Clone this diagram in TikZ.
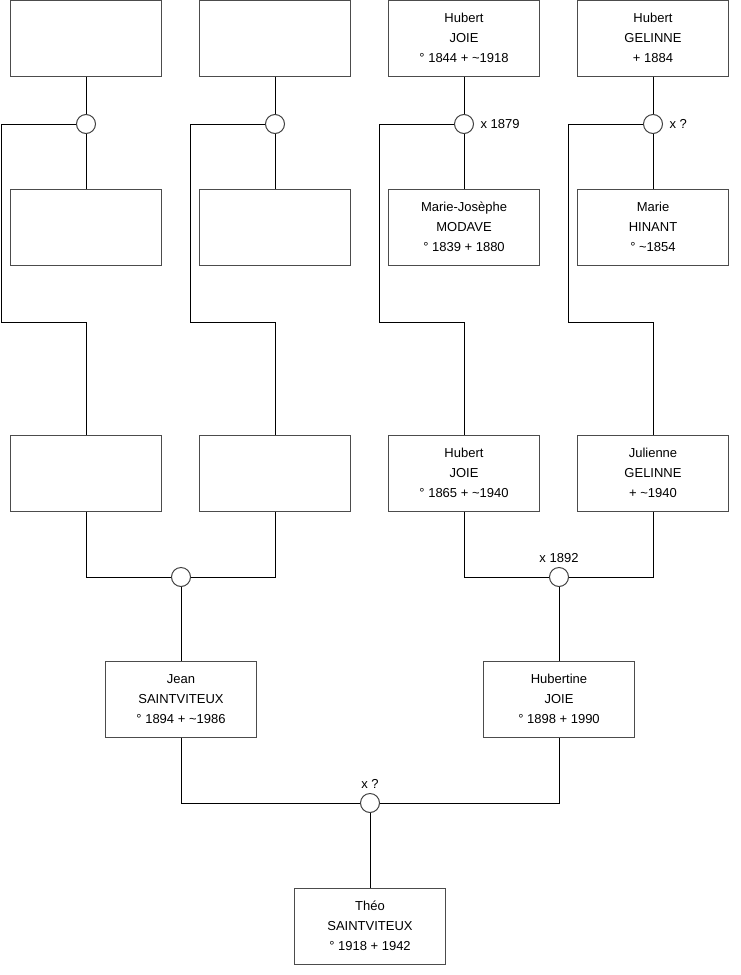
\documentclass[tikz,border=0pt]{standalone}
\usepackage{fontspec}
\setmainfont{Liberation Sans}
\usetikzlibrary{positioning}

\begin{document}
\begin{tikzpicture}[x=1pt, y=-1pt, node distance=37pt, line width=1pt]
    % Styles
    \tikzstyle{person} = [rectangle, draw=black!70, fill=white, minimum width=151pt, minimum height=76pt, align=center, inner sep=0pt, font=\fontsize{13}{20}\selectfont]
    \tikzstyle{union} = [circle, draw=black!75, fill=white, minimum size=19pt, inner sep=0pt]
    \tikzstyle{year} = [font=\fontsize{13}{15}\selectfont, inner sep=2pt]
    \tikzstyle{line} = [draw, black]

    \useasboundingbox (0,0) rectangle (740,975);

    % Great-grandparents
    \node [person] (ggp1) at (86,38) {};
    \node [person, right=of ggp1] (ggp2) {};
    \node [person, right=of ggp2] (ggp3) {Hubert\\JOIE\\° 1844 + \textasciitilde1918};
    \node [person, right=of ggp3] (ggp4) {Hubert\\GELINNE\\+ 1884};

    \node [person, below=112pt of ggp1] (ggm1) {};
    \node [person, below=112pt of ggp2] (ggm2) {};
    \node [person, below=112pt of ggp3] (ggm3) {Marie-Josèphe\\MODAVE\\° 1839 + 1880};
    \node [person, below=112pt of ggp4] (ggm4) {Marie\\HINANT\\° \textasciitilde1854};

    % Grandparents
    \node [person] (gp1) at (86,473) {};
    \node [person, right=of gp1] (gp2) {};
    \node [person, right=of gp2] (gp3) {Hubert\\JOIE\\° 1865 + \textasciitilde1940};
    \node [person, right=of gp3] (gp4) {Julienne\\GELINNE\\+ \textasciitilde1940};

    % Parents and child
    \node [person] (father) at (181,699) {Jean\\SAINTVITEUX\\° 1894 + \textasciitilde1986};
    \node [person] (mother) at (559,699) {Hubertine\\JOIE\\° 1898 + 1990};
    \node [person] (child) at (370,926) {Théo\\SAINTVITEUX\\° 1918 + 1942};

    % Unions
    \node [union] (u1) at (ggp1 |- 0,124) {};
    \node [union] (u2) at (ggp2 |- 0,124) {};
    \node [union] (u3) at (ggp3 |- 0,124) {};
    \node [union] (u4) at (ggp4 |- 0,124) {};
    \node [union] (v1) at (181,577) {};
    \node [union] (v2) at (559,577) {};
    \node [union] (w) at (370,803) {};

    \node [year, right=4pt of u3] (l3) {x 1879};
    \node [year, right=4pt of u4] (l4) {x ?};
    \node [year, above=2pt of v2] (lv2) {x 1892};
    \node [year, above=2pt of w] (lw) {x ?};

    % Bends
    \coordinate (k1) at (1,322);
    \coordinate (k2) at (190,322);
    \coordinate (k3) at (379,322);
    \coordinate (k4) at (568,322);

    % Edges
    \draw [line] (ggp1) -- (u1);
    \draw [line] (u1) -- (ggm1);
    \draw [line] (u1.west) -| (k1) -| (gp1.north);
    \draw [line] (ggp2) -- (u2);
    \draw [line] (u2) -- (ggm2);
    \draw [line] (u2.west) -| (k2) -| (gp2.north);
    \draw [line] (ggp3) -- (u3);
    \draw [line] (u3) -- (ggm3);
    \draw [line] (u3.west) -| (k3) -| (gp3.north);
    \draw [line] (ggp4) -- (u4);
    \draw [line] (u4) -- (ggm4);
    \draw [line] (u4.west) -| (k4) -| (gp4.north);

    \draw [line] (gp1.south) |- (v1.west);
    \draw [line] (v1.east) -| (gp2.south);
    \draw [line] (v1) -- (father);
    \draw [line] (gp3.south) |- (v2.west);
    \draw [line] (v2.east) -| (gp4.south);
    \draw [line] (v2) -- (mother);

    \draw [line] (father.south) |- (w.west);
    \draw [line] (w.east) -| (mother.south);
    \draw [line] (w) -- (child);
\end{tikzpicture}
\end{document}
